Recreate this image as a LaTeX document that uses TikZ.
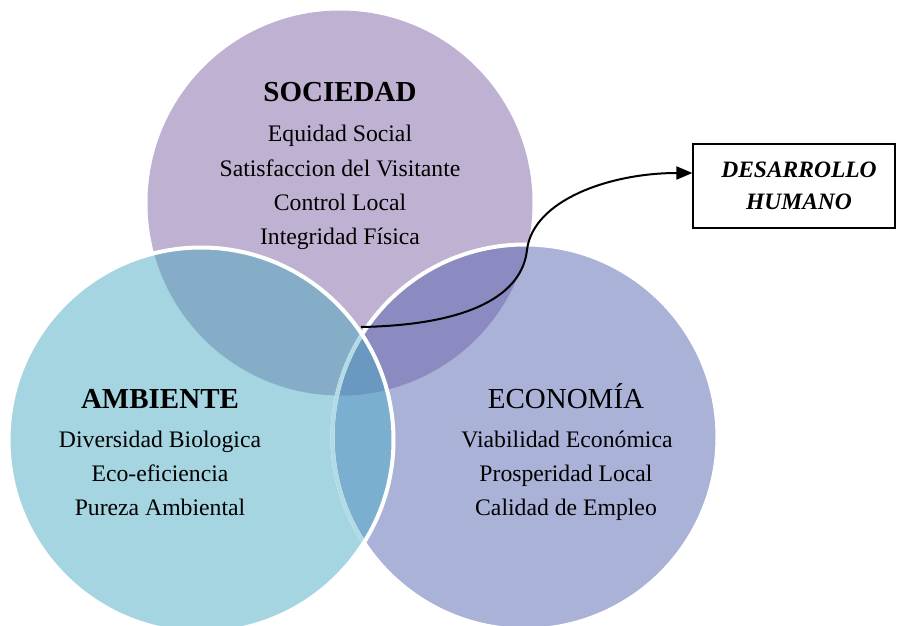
\documentclass[tikz,border=0pt]{standalone}
\usepackage{fontspec}
\setmainfont{Liberation Serif}
\usetikzlibrary{arrows.meta}
\definecolor{socc}{HTML}{BFB1D1}
\definecolor{ambc}{HTML}{A6D5E2}
\definecolor{ecoc}{HTML}{ABB2D8}
\definecolor{sac}{HTML}{86ADC8}
\definecolor{sec}{HTML}{8B8BC1}
\definecolor{aec}{HTML}{7AAFCF}
\definecolor{saec}{HTML}{6999C1}
\tikzset{
  ttl/.style={font=\fontsize{29}{34}\selectfont\bfseries, anchor=base, inner sep=0pt},
  ttlr/.style={font=\fontsize{29}{34}\selectfont, anchor=base, inner sep=0pt},
  itm/.style={font=\fontsize{23.7}{34}\selectfont, anchor=base, inner sep=0pt},
  border/.style={draw=white, line width=4pt},
  dhbox/.style={draw=black, line width=1.2pt, minimum width=202pt, minimum height=84pt,
    align=center, inner sep=0pt, font=\fontsize{23.5}{32}\selectfont\bfseries\itshape},
  conn/.style={line width=2pt, -{Triangle[length=16pt,width=13pt]}}
}
\begin{document}
\begin{tikzpicture}[x=1pt,y=-1pt]
\useasboundingbox (0,0) rectangle (897,626);
\clip (0,0) rectangle (897,626);
\coordinate (S) at (340,203);
\coordinate (A) at (201,440);
\coordinate (E) at (525,437);
\def\rr{192.5pt}
% base fills
\fill[socc] (S) circle (\rr);
\fill[ambc] (A) circle (\rr);
\fill[ecoc] (E) circle (\rr);
% pairwise intersections
\begin{scope}
  \clip (A) circle (\rr);
  \fill[aec] (E) circle (\rr);
\end{scope}
\begin{scope}
  \clip (S) circle (\rr);
  \fill[sac] (A) circle (\rr);
  \fill[sec] (E) circle (\rr);
  \clip (A) circle (\rr);
  \fill[saec] (E) circle (\rr);
\end{scope}
% borders
\draw[border] (E) circle (\rr);
\begin{scope}
  \clip (A) circle (\rr);
  \draw[draw=ambc!85!white, line width=4pt] (E) circle (\rr);
\end{scope}
\draw[border] (A) circle (\rr);
% texts
\node[ttl] (socT) at (340,102) {SOCIEDAD};
\node[itm] (s1) at (340,141) {Equidad Social};
\node[itm] (s2) at (340,176) {Satisfaccion del Visitante};
\node[itm] (s3) at (340,210) {Control Local};
\node[itm] (s4) at (340,244) {Integridad Física};
\node[ttl] (ambT) at (160,408) {AMBIENTE};
\node[itm] (a1) at (160,447) {Diversidad Biologica};
\node[itm] (a2) at (160,481) {Eco-eficiencia};
\node[itm] (a3) at (160,515) {Pureza Ambiental};
\node[ttlr] (ecoT) at (566,408) {ECONOMÍA};
\node[itm] (e1) at (567,447) {Viabilidad Económica};
\node[itm] (e2) at (566,481) {Prosperidad Local};
\node[itm] (e3) at (566,515) {Calidad de Empleo};
% box
\node[dhbox] (dh) at (794,186) {\hspace*{10pt}DESARROLLO\\\hspace*{10pt}HUMANO};
% connector
\coordinate (start) at (361,327);
\coordinate (mid) at (527,250);
\draw[conn] (start) .. controls (470,325) and (522,295) .. (mid)
  .. controls (533,200) and (610,173) .. ([yshift=13pt]dh.west);
\end{tikzpicture}
\end{document}
